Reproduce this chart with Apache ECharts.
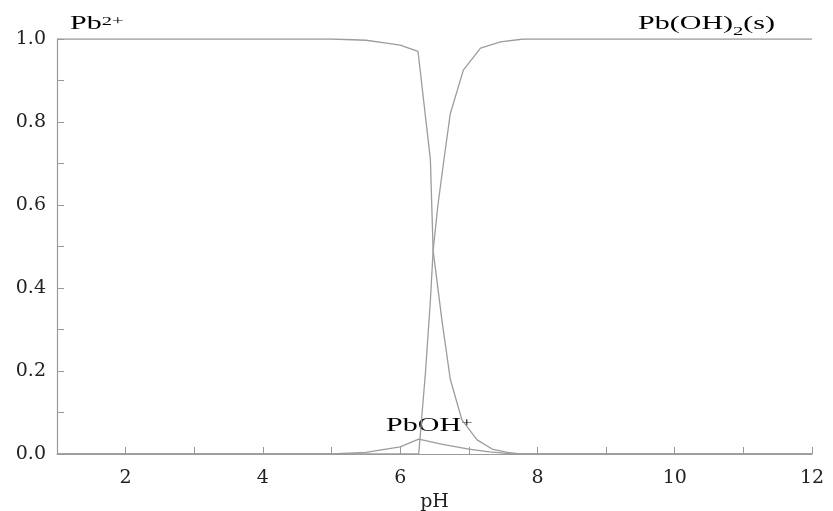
<!DOCTYPE html>
<html>
<head>
<meta charset="utf-8">
<script src="https://cdn.jsdelivr.net/npm/echarts@6/dist/echarts.min.js"></script>
<style>
  body { margin: 0; background: #fff; }
  #chart { width: 833px; height: 511px; }
</style>
</head>
<body>
<div id="chart"></div>
<script>
// 数据: pH 与各形态分数
const pb2pH = [1, 4, 5.0, 5.5, 5.8, 6.0, 6.26, 6.44, 6.48, 6.61, 6.73, 6.9, 7.12, 7.34, 7.56, 7.75, 12];
const pb2Frac = [1, 1, 1, 0.997, 0.99, 0.985, 0.97, 0.71, 0.49, 0.32, 0.18, 0.082, 0.034, 0.012, 0.004, 0, 0];

const pbohSolidPH = [1, 6.27, 6.31, 6.37, 6.44, 6.48, 6.55, 6.63, 6.73, 6.92, 7.17, 7.46, 7.8, 12];
const pbohSolidFrac = [0, 0, 0.08, 0.2, 0.37, 0.49, 0.6, 0.7, 0.82, 0.925, 0.978, 0.993, 1, 1];

const pbohPH = [1, 5.0, 5.5, 6.0, 6.27, 6.6, 7.0, 7.3, 7.6, 7.8, 12];
const pbohFrac = [0, 0, 0.004, 0.017, 0.036, 0.024, 0.012, 0.005, 0.001, 0, 0];

const xTicks = [2, 4, 6, 8, 10, 12];

function pairs(xs, ys) {
  return xs.map((x, i) => [x, ys[i]]);
}

const font = '"Liberation Serif", "DejaVu Serif", serif';
const axisFont = '"DejaVu Serif", serif';
const lineColor = '#9c9c9c';
const stretch = 1.58; // 原图文字横向被拉宽

let chart = echarts.init(document.getElementById('chart'));

function label(x, y, text, rich) {
  return {
    type: 'text', x: x, y: y, scaleX: stretch,
    style: { text: text, rich: rich }
  };
}
const base = { fontFamily: font, fontSize: 19, color: '#222', verticalAlign: 'top', lineHeight: 21 };
const sup = { fontFamily: font, fontSize: 13, color: '#222', verticalAlign: 'top', lineHeight: 13 };
const sub = { fontFamily: font, fontSize: 13, color: '#222', verticalAlign: 'top', lineHeight: 13, padding: [10, 0, 0, 0] };

let option = {
  animation: false,
  grid: { left: 57, right: 21, top: 39, bottom: 57, outerBoundsMode: 'none', containLabel: false },
  xAxis: {
    type: 'value',
    min: 1,
    max: 12,
    interval: 1,
    name: 'pH',
    nameLocation: 'middle',
    nameGap: 38,
    nameTextStyle: { fontFamily: axisFont, fontSize: 19, color: '#222' },
    axisLine: { lineStyle: { color: '#999', width: 1.2 } },
    axisTick: { inside: true, length: 7, lineStyle: { color: '#999' } },
    axisLabel: {
      fontFamily: axisFont, fontSize: 19, color: '#222', margin: 15,
      formatter: v => xTicks.indexOf(v) >= 0 ? String(v) : ''
    },
    splitLine: { show: false }
  },
  yAxis: {
    type: 'value',
    min: 0,
    max: 1,
    interval: 0.1,
    axisLine: { show: true, lineStyle: { color: '#999', width: 1.2 } },
    axisTick: { show: true, inside: true, length: 7, lineStyle: { color: '#999' } },
    axisLabel: {
      fontFamily: axisFont, fontSize: 19, color: '#222', margin: 11,
      formatter: v => (Math.round(v * 10) % 2 === 0) ? v.toFixed(1) : ''
    },
    splitLine: { show: false }
  },
  series: [
    {
      name: 'Pb2+', type: 'line', symbol: 'none',
      lineStyle: { color: lineColor, width: 1.3 },
      data: pairs(pb2pH, pb2Frac)
    },
    {
      name: 'Pb(OH)2(s)', type: 'line', symbol: 'none',
      lineStyle: { color: lineColor, width: 1.3 },
      data: pairs(pbohSolidPH, pbohSolidFrac)
    },
    {
      name: 'PbOH+', type: 'line', symbol: 'none',
      lineStyle: { color: lineColor, width: 1.3 },
      data: pairs(pbohPH, pbohFrac)
    }
  ],
  graphic: [
    label(70, 15, '{b|Pb}{sup|2+}', { b: base, sup: sup }),
    label(638, 15, '{b|Pb(OH)}{sub|2}{b|(s)}', { b: base, sub: sub }),
    label(386, 417, '{b|PbOH}{sup|+}', { b: base, sup: sup })
  ]
};
chart.setOption(option);
</script>
</body>
</html>
